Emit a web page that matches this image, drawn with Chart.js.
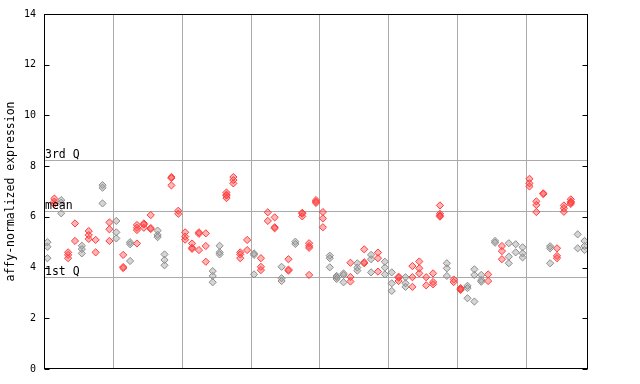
<!DOCTYPE html>
<html>
<head>
<meta charset="utf-8">
<script src="https://cdn.jsdelivr.net/npm/chart.js@4.4.1/dist/chart.umd.min.js"></script>
<style>
  html, body { margin: 0; padding: 0; background: #fff; }
  #wrap { width: 640px; height: 384px; position: relative; }
</style>
</head>
<body>
<div id="wrap"><canvas id="c" width="640" height="384"></canvas></div>
<script>
// ---- data ----
const sampleValues = [
  [5.0, 4.82, 4.37], [6.72, 6.6, 6.5], [6.66, 6.56, 6.14], [4.6, 4.5, 4.37], [5.74, 5.05],
  [4.86, 4.73, 4.56], [5.44, 5.28, 5.13], [5.09, 4.6], [7.25, 7.15, 6.53], [5.78, 5.51, 5.05],
  [5.84, 5.39, 5.15], [4.5, 4.02, 3.98], [5.0, 4.92, 4.26], [5.68, 5.57, 5.48, 4.95], [5.74, 5.7, 5.57],
  [6.07, 5.56, 5.52], [5.46, 5.29, 5.2], [4.52, 4.3, 4.09], [7.57, 7.53, 7.24], [6.24, 6.12],
  [5.39, 5.22, 5.1], [4.95, 4.78, 4.74], [5.39, 5.33, 4.69], [5.35, 4.85, 4.23], [3.86, 3.67, 3.42],
  [4.86, 4.6, 4.52], [6.96, 6.87, 6.84, 6.74], [7.57, 7.45, 7.32], [4.6, 4.52, 4.37], [5.09, 4.69],
  [4.56, 4.5, 3.73], [4.37, 4.03, 3.9], [6.18, 5.84], [5.98, 5.59, 5.55], [4.03, 3.58, 3.47],
  [4.33, 3.92, 3.88], [5.02, 4.93], [6.16, 6.13, 6.02], [4.96, 4.85, 4.78, 3.71], [6.66, 6.59, 6.55],
  [6.19, 5.94, 5.59], [4.47, 4.37, 4.01], [3.67, 3.62, 3.55], [3.77, 3.71, 3.42], [4.19, 3.63, 3.45],
  [4.17, 4.0, 3.88], [4.72, 4.21, 4.17], [4.5, 4.33, 3.81], [4.59, 4.37, 3.84], [4.23, 4.0, 3.73],
  [3.81, 3.38, 3.08], [3.64, 3.6, 3.47], [3.62, 3.38, 3.24], [4.06, 3.62, 3.24], [4.24, 3.97, 3.77],
  [3.62, 3.3], [3.77, 3.43, 3.34], [6.45, 6.12, 6.05, 6.01], [4.17, 3.97, 3.67], [3.53, 3.43],
  [3.19, 3.15, 3.12], [3.28, 3.19, 2.79], [3.93, 3.71, 2.66], [3.71, 3.51, 3.44], [3.73, 3.47],
  [5.05, 4.98], [4.85, 4.65, 4.33], [4.96, 4.43, 4.17], [4.92, 4.6], [4.8, 4.56, 4.4],
  [7.5, 7.32, 7.2], [6.61, 6.47, 6.19], [6.93, 6.9], [4.84, 4.76, 4.17], [4.76, 4.46, 4.37],
  [6.45, 6.34, 6.2], [6.69, 6.6, 6.56, 6.51], [5.31, 4.76], [5.05, 4.85, 4.69]
];
// G = gray, R = red
const sampleColor = [
  'G','R','G','R','R','G','R','R','G','R',
  'G','R','G','R','R','R','G','G','R','R',
  'R','R','R','R','G','G','R','R','R','R',
  'G','R','R','R','G','R','G','R','R','R',
  'R','G','G','G','R','G','R','G','R','G',
  'G','R','G','R','R','R','R','R','G','R',
  'R','G','G','G','R','G','R','G','G','G',
  'R','R','R','G','R','R','R','G','G'
];
const groupBreaks = [10, 20, 30, 40, 50, 60, 70];
const yTickValues = [0, 2, 4, 6, 8, 10, 12, 14];
const quartileLabels = ['3rd Q', 'mean', '1st Q'];
const quartileValues = [8.23, 6.22, 3.62];

const nSamples = sampleValues.length;
const grayPts = [], redPts = [];
sampleValues.forEach((vals, i) => {
  vals.forEach(v => {
    (sampleColor[i] === 'G' ? grayPts : redPts).push({ x: i + 0.5, y: v });
  });
});

const MONO = '"DejaVu Sans Mono", "Liberation Mono", monospace';

const decor = {
  id: 'decor',
  beforeDatasetsDraw(chart) {
    const { ctx, chartArea: a, scales: { x, y } } = chart;
    ctx.save();
    ctx.strokeStyle = '#aaaaaa';
    ctx.lineWidth = 1;
    groupBreaks.forEach(b => {
      const px = Math.round(x.getPixelForValue(b)) + 0.5;
      ctx.beginPath(); ctx.moveTo(px, a.top); ctx.lineTo(px, a.bottom); ctx.stroke();
    });
    quartileValues.forEach(q => {
      const py = Math.round(y.getPixelForValue(q)) + 0.5;
      ctx.beginPath(); ctx.moveTo(a.left, py); ctx.lineTo(a.right, py); ctx.stroke();
    });
    ctx.restore();
  },
  afterDraw(chart) {
    const { ctx, chartArea: a, scales: { y } } = chart;
    ctx.save();
    ctx.strokeStyle = '#000';
    ctx.lineWidth = 1;
    const L = Math.round(a.left) + 0.5, R = Math.round(a.right) - 0.5;
    const T = Math.round(a.top) + 0.5, B = Math.round(a.bottom) - 0.5;
    ctx.strokeRect(L, T, R - L, B - T);
    yTickValues.forEach(t => {
      const py = Math.round(y.getPixelForValue(t)) + 0.5;
      ctx.beginPath(); ctx.moveTo(L, py); ctx.lineTo(L + 5, py); ctx.stroke();
      ctx.beginPath(); ctx.moveTo(R, py); ctx.lineTo(R - 5, py); ctx.stroke();
    });
    ctx.fillStyle = '#000';
    ctx.font = '11.5px ' + MONO;
    ctx.textAlign = 'left';
    ctx.textBaseline = 'bottom';
    quartileLabels.forEach((lab, k) => {
      const py = Math.round(y.getPixelForValue(quartileValues[k]));
      ctx.fillText(lab, a.left + 1, py + 1);
    });
    ctx.restore();
  }
};

new Chart(document.getElementById('c'), {
  type: 'scatter',
  data: {
    datasets: [
      {
        data: grayPts,
        pointStyle: 'rectRot',
        pointRadius: 3.6,
        pointHoverRadius: 3.6,
        borderWidth: 1,
        borderColor: 'rgba(140,140,140,1)',
        backgroundColor: 'rgba(150,150,150,0.4)'
      },
      {
        data: redPts,
        pointStyle: 'rectRot',
        pointRadius: 3.6,
        pointHoverRadius: 3.6,
        borderWidth: 1,
        borderColor: 'rgba(255,60,60,1)',
        backgroundColor: 'rgba(255,70,70,0.4)'
      }
    ]
  },
  options: {
    responsive: false,
    animation: false,
    events: [],
    layout: { padding: { left: 0, top: 14, right: 52, bottom: 15 } },
    plugins: { legend: { display: false }, tooltip: { enabled: false } },
    scales: {
      x: {
        type: 'linear', min: 0, max: nSamples, display: false
      },
      y: {
        min: 0, max: 14,
        afterFit(s) { s.width = 44; },
        afterBuildTicks(s) { s.ticks = yTickValues.map(v => ({ value: v })); },
        grid: { display: false, drawTicks: false },
        border: { display: false },
        ticks: {
          color: '#000',
          padding: 8,
          font: { family: MONO, size: 10 }
        },
        title: {
          display: true,
          text: 'affy-normalized expression',
          color: '#000',
          padding: { top: 4, bottom: 0 },
          font: { family: MONO, size: 11.5 }
        }
      }
    }
  },
  plugins: [decor]
});
</script>
</body>
</html>
